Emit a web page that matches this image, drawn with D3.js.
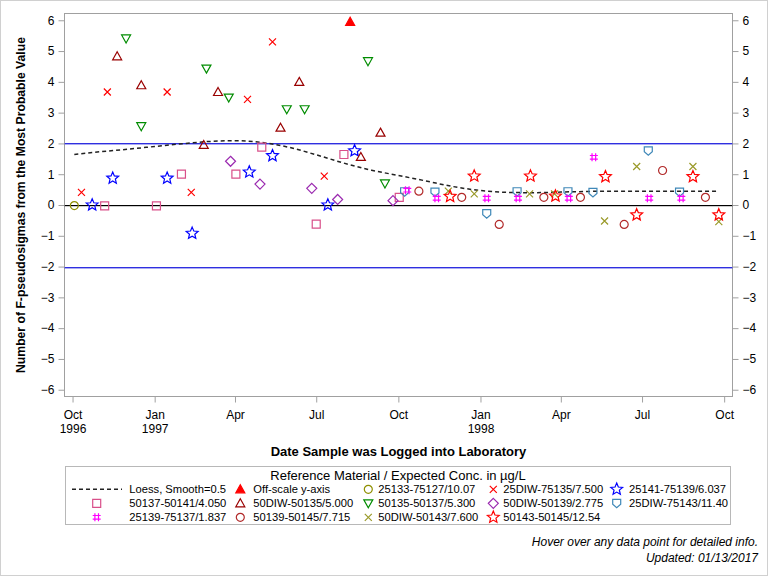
<!DOCTYPE html>
<html><head><meta charset="utf-8">
<script src="https://cdn.jsdelivr.net/npm/d3@7"></script>
<style>
body{margin:0;background:#fff}
svg{display:block}
text{font-family:Arial,"Liberation Sans",sans-serif;fill:#000}
</style>
</head><body><svg id="c" width="768" height="576"></svg>
<script>
// ---------------- DATA ----------------
const yTicks = [-6,-5,-4,-3,-2,-1,0,1,2,3,4,5,6];
const refLines = [2, 0, -2];

const loessDates  = ["1996-10-03","1996-11-01","1996-12-01","1997-01-01","1997-02-01","1997-03-01","1997-04-01","1997-05-01","1997-06-01","1997-07-01","1997-08-01","1997-09-01","1997-10-01","1997-11-01","1997-12-01","1998-01-01","1998-02-01","1998-03-01","1998-04-01","1998-05-01","1998-06-01","1998-07-01","1998-08-01","1998-09-01","1998-09-25"];
const loessValues = [1.64,1.73,1.81,1.90,1.99,2.06,2.09,2.03,1.87,1.63,1.36,1.13,0.96,0.78,0.60,0.47,0.41,0.40,0.42,0.44,0.45,0.45,0.45,0.45,0.45];

const offscaleDates  = ["1997-08-08"];
const offscaleValues = [5.95];

const s25133Dates  = ["1996-10-03"];
const s25133Values = [-0.02];

const s25DIW75135Dates  = ["1996-10-11","1996-11-09","1997-01-15","1997-02-11","1997-04-15","1997-05-13","1997-07-10"];
const s25DIW75135Values = [0.41,3.67,3.67,0.41,3.43,5.30,0.94];

const s25141Dates  = ["1996-10-23","1996-11-15","1997-01-15","1997-02-12","1997-04-17","1997-05-13","1997-07-14","1997-08-13"];
const s25141Values = [0.0,0.87,0.87,-0.92,1.07,1.60,0.0,1.76];

const s50137Dates  = ["1996-11-06","1997-01-03","1997-01-31","1997-04-02","1997-05-01","1997-07-01","1997-08-01","1997-10-02"];
const s50137Values = [-0.03,-0.03,1.0,1.0,1.88,-0.62,1.64,0.25];

const s50DIW50135Dates  = ["1996-11-20","1996-12-17","1997-02-25","1997-03-13","1997-05-22","1997-06-12","1997-08-20","1997-09-11"];
const s50DIW50135Values = [4.83,3.89,1.95,3.67,2.51,4.0,1.56,2.35];

const s50135Dates  = ["1996-11-30","1996-12-17","1997-02-28","1997-03-25","1997-05-29","1997-06-18","1997-08-28","1997-09-16"];
const s50135Values = [5.41,2.56,4.43,3.49,3.11,3.11,4.67,0.70];

const s50DIW50139Dates  = ["1997-03-27","1997-04-29","1997-06-26","1997-07-25","1997-09-25"];
const s50DIW50139Values = [1.42,0.68,0.54,0.18,0.14];

const s25DIW75143Dates  = ["1997-10-08","1997-11-11","1998-01-08","1998-02-11","1998-04-09","1998-05-07","1998-07-08","1998-08-12"];
const s25DIW75143Values = [0.43,0.42,-0.28,0.43,0.43,0.41,1.76,0.42];

const s25139Dates  = ["1997-10-11","1997-11-13","1998-01-08","1998-02-12","1998-04-10","1998-05-08","1998-07-09","1998-08-14"];
const s25139Values = [0.48,0.22,0.22,0.22,0.22,1.55,0.22,0.22];

const s50139Dates  = ["1997-10-24","1997-12-11","1998-01-22","1998-03-13","1998-04-23","1998-06-11","1998-07-24","1998-09-10"];
const s50139Values = [0.45,0.25,-0.63,0.25,0.25,-0.63,1.12,0.25];

const s50DIW50143Dates  = ["1997-11-26","1997-12-25","1998-02-25","1998-03-25","1998-05-20","1998-06-25","1998-08-27","1998-09-25"];
const s50DIW50143Values = [0.45,0.36,0.36,0.36,-0.52,1.25,1.25,-0.54];

const s50143Dates  = ["1997-11-28","1997-12-25","1998-02-26","1998-03-26","1998-05-21","1998-06-25","1998-08-27","1998-09-25"];
const s50143Values = [0.28,0.94,0.94,0.29,0.92,-0.32,0.92,-0.32];

const legendTitle = "Reference Material / Expected Conc. in µg/L";
const legendLabels = ["Loess, Smooth=0.5","Off-scale y-axis","25133-75127/10.07","25DIW-75135/7.500","25141-75139/6.037",
  "50137-50141/4.050","50DIW-50135/5.000","50135-50137/5.300","50DIW-50139/2.775","25DIW-75143/11.40",
  "25139-75137/1.837","50139-50145/7.715","50DIW-50143/7.600","50143-50145/12.54"];

// ---------------- SETUP ----------------
const parse = d3.utcParse("%Y-%m-%d");
const svg = d3.select("#c");
const L = 64.5, R = 732.5, T = 13.5, B = 396.5;

const x = d3.scaleUtc().domain([Date.UTC(1996,8,22), Date.UTC(1998,9,10,8)]).range([L, R]);
const y = d3.scaleLinear().domain([-6.22, 6.22]).range([B, T]);

// outer border
svg.append("rect").attr("x",0.5).attr("y",0.5).attr("width",767).attr("height",575)
  .attr("fill","none").attr("stroke","#d0d0d0");

// shapes
function starPath(Ro, Ri){
  let p = [];
  for(let i=0;i<10;i++){
    const a = -Math.PI/2 + i*Math.PI/5;
    const r = i%2===0 ? Ro : Ri;
    p.push([r*Math.cos(a), r*Math.sin(a)]);
  }
  return "M" + p.map(q=>q[0].toFixed(2)+","+q[1].toFixed(2)).join("L") + "Z";
}
const shapes = {
  circle: "M4,0A4,4 0 1,1 -4,0A4,4 0 1,1 4,0Z",
  square: "M-4,-4H4V4H-4Z",
  triUp: "M0,-4.5L4.5,3.5L-4.5,3.5Z",
  triDown: "M0,4.5L4.5,-3.5L-4.5,-3.5Z",
  diamond: "M0,-5L5,0L0,5L-5,0Z",
  cross: "M-3.5,-3.5L3.5,3.5M-3.5,3.5L3.5,-3.5",
  hash: "M-1.8,-4V4M1.8,-4V4M-4,-1.8H4M-4,1.8H4",
  shield: "M-4,-4H4V1L0,4.5L-4,1Z",
  star: starPath(6.2, 2.8)
};

const series = [
  {dates:offscaleDates, values:offscaleValues, shape:"triUp", color:"#ff0000", fill:true},
  {dates:s25133Dates, values:s25133Values, shape:"circle", color:"#8f8f00"},
  {dates:s25DIW75135Dates, values:s25DIW75135Values, shape:"cross", color:"#ff0000"},
  {dates:s25141Dates, values:s25141Values, shape:"star", color:"#0000ff"},
  {dates:s50137Dates, values:s50137Values, shape:"square", color:"#d9508a"},
  {dates:s50DIW50135Dates, values:s50DIW50135Values, shape:"triUp", color:"#990000"},
  {dates:s50135Dates, values:s50135Values, shape:"triDown", color:"#008c00"},
  {dates:s50DIW50139Dates, values:s50DIW50139Values, shape:"diamond", color:"#9b2ab0"},
  {dates:s25DIW75143Dates, values:s25DIW75143Values, shape:"shield", color:"#3f88b8"},
  {dates:s25139Dates, values:s25139Values, shape:"hash", color:"#ff00ff"},
  {dates:s50139Dates, values:s50139Values, shape:"circle", color:"#b22a2a"},
  {dates:s50DIW50143Dates, values:s50DIW50143Values, shape:"cross", color:"#9a9a2a"},
  {dates:s50143Dates, values:s50143Values, shape:"star", color:"#ff0000"}
];

// frame
svg.append("rect").attr("x",L).attr("y",T).attr("width",R-L).attr("height",B-T)
  .attr("fill","none").attr("stroke","#a0a0a0");

// reference lines (drawn as thin filled rects)
const refG = svg.append("g");
refLines.forEach(v=>{
  const yy = Math.round(y(v));
  refG.append("rect").attr("x",L).attr("width",R-L).attr("y",yy).attr("height",v===0?1.2:1.4)
    .attr("fill", v===0 ? "#000000" : "#2f2fe0");
});

// axes
function styleAxis(g){
  g.select(".domain").remove();
  g.selectAll(".tick line").attr("stroke","#a0a0a0");
  g.selectAll(".tick text").attr("font-size","12px").attr("fill","#000")
   .style("font-family","Arial,'Liberation Sans',sans-serif");
}
const yL = svg.append("g").attr("transform",`translate(${L},0)`)
  .call(d3.axisLeft(y).tickValues(yTicks).tickSize(6).tickPadding(4).tickFormat(d3.format("d")));
styleAxis(yL);
const yR = svg.append("g").attr("transform",`translate(${R},0)`)
  .call(d3.axisRight(y).tickValues(yTicks).tickSize(6).tickPadding(4).tickFormat(d3.format("d")));
styleAxis(yR);

const xTicks = d3.utcMonth.range(Date.UTC(1996,9,1), Date.UTC(1998,9,2), 3);
const xA = svg.append("g").attr("transform",`translate(0,${B})`)
  .call(d3.axisBottom(x).tickValues(xTicks).tickSize(6).tickPadding(8).tickFormat(d3.utcFormat("%b")));
styleAxis(xA);
xA.selectAll(".tick").each(function(d,i){
  if(i===0 || d.getUTCMonth()===0){
    d3.select(this).append("text").attr("y",28).attr("dy","0.71em").attr("text-anchor","middle")
      .attr("font-size","12px").attr("fill","#000").text(d3.utcFormat("%Y")(d));
  }
});

// axis titles
svg.append("text").attr("x",(L+R)/2).attr("y",456).attr("text-anchor","middle")
  .attr("font-size","13px").attr("font-weight","bold").text("Date Sample was Logged into Laboratory");
svg.append("text").attr("transform",`translate(25,${(T+B)/2}) rotate(-90)`).attr("text-anchor","middle")
  .attr("font-size","12.2px").attr("font-weight","bold").text("Number of F-pseudosigmas from the Most Probable Value");

// loess line
const loess = loessDates.map((d,i)=>({d:parse(d), v:loessValues[i]}));
svg.append("path").datum(loess)
  .attr("d", d3.line().x(p=>x(p.d)).y(p=>y(p.v)).curve(d3.curveMonotoneX))
  .attr("fill","none").attr("stroke","#222").attr("stroke-width",1.5).attr("stroke-dasharray","4,3");

// points
series.forEach(s=>{
  const pts = s.dates.map((d,i)=>({d:parse(d), v:s.values[i]}));
  svg.append("g").selectAll("path").data(pts).join("path")
    .attr("transform",p=>`translate(${x(p.d)},${y(p.v)})`)
    .attr("d",shapes[s.shape])
    .attr("fill",s.fill?s.color:"none").attr("stroke",s.color).attr("stroke-width",1.2);
});

// legend
svg.append("rect").attr("x",65.5).attr("y",466.5).attr("width",665).attr("height",58)
  .attr("fill","none").attr("stroke","#b8b8b8");
svg.append("text").attr("x",398).attr("y",475).attr("dy","0.35em").attr("text-anchor","middle")
  .attr("font-size","13px").text(legendTitle);
const colSym = [96.7, 240.3, 368.3, 493.3, 616.7];
const colTxt = [129.3, 253.3, 378.3, 503.3, 629];
const rowY = [489.3, 503.3, 517.3];
legendLabels.forEach((lab,i)=>{
  const c = i%5, r = Math.floor(i/5);
  const g = svg.append("g");
  if(i===0){
    g.append("line").attr("x1",72).attr("x2",122).attr("y1",rowY[r]).attr("y2",rowY[r])
      .attr("stroke","#222").attr("stroke-width",1.5).attr("stroke-dasharray","4,3");
  } else {
    const s = series[i-1];
    g.append("path").attr("transform",`translate(${colSym[c]},${rowY[r]})`).attr("d",shapes[s.shape])
      .attr("fill",s.fill?s.color:"none").attr("stroke",s.color).attr("stroke-width",1.2);
  }
  g.append("text").attr("x",colTxt[c]).attr("y",rowY[r]).attr("dy","0.35em").attr("font-size","11.2px").text(lab);
});

// footnotes
svg.append("text").attr("x",758).attr("y",542).attr("dy","0.35em").attr("text-anchor","end")
  .attr("font-size","12px").attr("font-style","italic").text("Hover over any data point for detailed info.");
svg.append("text").attr("x",758).attr("y",558).attr("dy","0.35em").attr("text-anchor","end")
  .attr("font-size","12px").attr("font-style","italic").text("Updated: 01/13/2017");
</script></body></html>
